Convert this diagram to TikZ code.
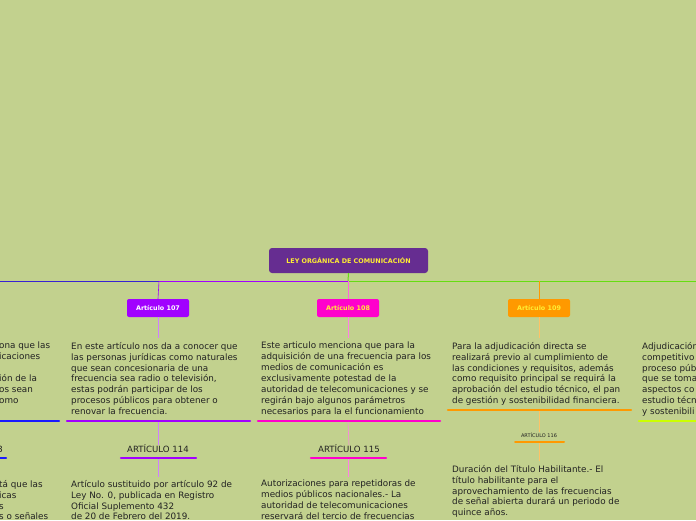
\documentclass[tikz,border=0pt]{standalone}
\usepackage{fontspec}
\setmainfont{DejaVu Sans}
\definecolor{bg}{HTML}{C2D18E}
\definecolor{mainc}{HTML}{662D91}
\definecolor{pur}{HTML}{A100FF}
\definecolor{mag}{HTML}{FF00CC}
\definecolor{ora}{HTML}{FF9900}
\definecolor{lim}{HTML}{CCFF00}
\definecolor{blu}{HTML}{1A1AFF}
\definecolor{grn}{HTML}{66DD11}
\definecolor{txt}{HTML}{222222}
\definecolor{yel}{HTML}{FFEE33}
\tikzset{x=1pt,y=-1pt,
 art/.style={rounded corners=2pt,minimum width=62pt,minimum height=18pt,font=\fontsize{6.4}{6}\selectfont\bfseries,inner sep=1pt},
 body/.style={anchor=north west,align=left,font=\fontsize{8.8}{10.9}\selectfont,text=txt,inner sep=0pt},
 sub/.style={font=\fontsize{8.6}{8}\selectfont,text=txt,inner sep=0pt},
 ul/.style={line width=2.2pt,line cap=round},
 conn/.style={line width=0.6pt}}
\begin{document}
\begin{tikzpicture}
\fill[bg] (0,0) rectangle (696,520);
\clip (0,0) rectangle (696,520);
\useasboundingbox (0,0) rectangle (696,520);
\node[rounded corners=3pt,fill=mainc,minimum width=159pt,minimum height=25pt,text=yel,font=\fontsize{6.4}{6}\selectfont\bfseries] (main) at (348.5,260.5) {LEY ORGÁNICA DE COMUNICACIÓN};
\coordinate (hl) at (0,281);
\coordinate (hr) at (696,281);
\coordinate (hm) at (348,281);
\draw[blu!60!mainc,conn] (hl) -- (159,281);
\draw[pur,conn] (159,281) -- (hm);
\draw[grn,line width=1pt] (hm) -- (hr);
\draw[grn,line width=1pt] (main.south) -- (hm);
\node[art,fill=pur,text=white] (a107) at (158,308) {Artículo 107};
\node[art,fill=mag,text=yel] (a108) at (348,308) {Artículo 108};
\node[art,fill=ora,text=yel] (a109) at (539,308) {Artículo 109};
\draw[pur,conn,rounded corners=2pt] (159,281) -- (a107.north);
\draw[mag!60!white,conn] (hm) -- (a108.north);
\draw[ora,conn,rounded corners=2pt] (539,281) -- (a109.north);
% bodies
\node[body] (t107) at (71,342) {En este artículo nos da a conocer que\\las personas jurídicas como naturales\\que sean concesionaria de una\\frecuencia sea radio o televisión,\\estas podrán participar de los\\procesos públicos para obtener o\\renovar la frecuencia.};
\node[body] (t108) at (261,342) {Este articulo menciona que para la\\adquisición de una frecuencia para los\\medios de comunicación es\\exclusivamente potestad de la\\autoridad de telecomunicaciones y se\\regirán bajo algunos parámetros\\necesarios para la el funcionamiento};
\node[body] (t109) at (452,342) {Para la adjudicación directa se\\realizará previo al cumplimiento de\\las condiciones y requisitos, además\\como requisito principal se requirá la\\aprobación del estudio técnico, el pan\\de gestión y sostenibilidad financiera.};
\node[body] (t110) at (642,342) {Adjudicación\\competitivo\\proceso púb\\que se toma\\aspectos co\\estudio técn\\y sostenibili};
\node[body] (t106) at (-1,342) {ona que las\\icaciones\\~\\ión de la\\os sean\\omo};
\draw[pur!50!white,conn] (a107.south) -- (158,338);
\draw[mag!50!white,conn] (a108.south) -- (348,338);
\draw[ora!60!white,conn] (a109.south) -- (539,338);
\draw[ul,blu] (-5,421) -- (59,421);
\draw[ul,pur] (67,421) -- (250,421);
\draw[ul,mag] (258,421) -- (440,421);
\draw[ul,ora] (448,410) -- (631,410);
\draw[ul,lim] (639,421) -- (700,421);
% sub articles
\node[sub] (s114) at (158,449) {ARTÍCULO 114};
\node[sub] (s115) at (349,449) {ARTÍCULO 115};
\node[sub,font=\fontsize{5}{5}\selectfont] (s116) at (539,435) {ARTÍCULO 116};
\node[sub,anchor=east] (s113) at (3,449) {3};
\draw[ul,pur] (121,458) -- (196,458);
\draw[ul,mag] (311,458) -- (386,458);
\draw[ul,ora,line width=2pt] (515,442) -- (564,442);
\draw[ul,blu] (-5,458) -- (6,458);
\draw[pur!50!white,conn] (158,422) -- (s114.north);
\draw[mag!50!white,conn] (348,422) -- (s115.north);
\draw[ora!60!white,conn] (539,411) -- (s116.north);
\draw[pur!50!white,conn] (158,459) -- (158,477);
\draw[mag!50!white,conn] (348,459) -- (348,477);
\draw[ora!60!white,conn] (539,443) -- (539,461);
\node[body] (b114) at (71,480) {Artículo sustituido por artículo 92 de\\Ley No. 0, publicada en Registro\\Oficial Suplemento 432\\de 20 de Febrero del 2019.};
\node[body] (b115) at (261,480) {Autorizaciones para repetidoras de\\medios públicos nacionales.- La\\autoridad de telecomunicaciones\\reservará del tercio de frecuencias};
\node[body] (b116) at (452,465) {Duración del Título Habilitante.- El\\título habilitante para el\\aprovechamiento de las frecuencias\\de señal abierta durará un periodo de\\quince años.};
\node[body] (b113) at (-1,480) {tá que las\\icas\\s\\s o señales};
\end{tikzpicture}
\end{document}
